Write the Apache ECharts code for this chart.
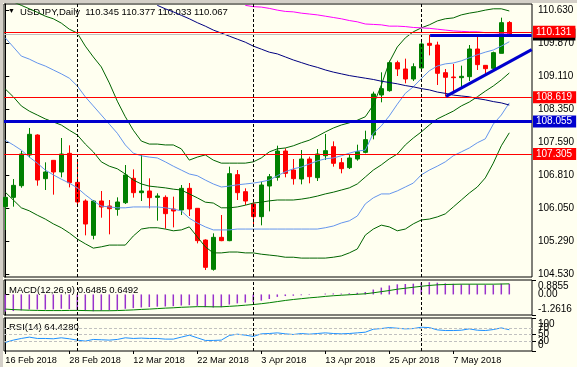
<!DOCTYPE html>
<html><head><meta charset="utf-8">
<script src="https://cdn.jsdelivr.net/npm/echarts@6/dist/echarts.min.js"></script>
<style>html,body{margin:0;padding:0;background:#FFFFF0}#c{width:577px;height:367px}</style>
</head><body><div id="c"></div>
<script>
const dates = ['16 Feb 2018','19 Feb 2018','20 Feb 2018','21 Feb 2018','22 Feb 2018','23 Feb 2018','26 Feb 2018','27 Feb 2018','28 Feb 2018',
'1 Mar 2018','2 Mar 2018','5 Mar 2018','6 Mar 2018','7 Mar 2018','8 Mar 2018','9 Mar 2018','12 Mar 2018','13 Mar 2018','14 Mar 2018','15 Mar 2018','16 Mar 2018','19 Mar 2018','20 Mar 2018','21 Mar 2018','22 Mar 2018','23 Mar 2018','26 Mar 2018','27 Mar 2018','28 Mar 2018','29 Mar 2018','30 Mar 2018',
'2 Apr 2018','3 Apr 2018','4 Apr 2018','5 Apr 2018','6 Apr 2018','9 Apr 2018','10 Apr 2018','11 Apr 2018','12 Apr 2018','13 Apr 2018','16 Apr 2018','17 Apr 2018','18 Apr 2018','19 Apr 2018','20 Apr 2018','23 Apr 2018','24 Apr 2018','25 Apr 2018','26 Apr 2018','27 Apr 2018','30 Apr 2018',
'1 May 2018','2 May 2018','3 May 2018','4 May 2018','7 May 2018','8 May 2018','9 May 2018','10 May 2018','11 May 2018','14 May 2018','15 May 2018','16 May 2018'];

const opens  = [106.096,106.311,106.580,107.288,107.749,106.742,107.165,106.896,107.326,106.657,106.227,105.435,106.227,106.111,106.035,106.188,106.750,106.419,106.458,106.311,106.311,106.042,106.019,106.519,106.058,105.327,104.651,105.389,105.312,106.835,106.442,106.158,105.866,106.573,106.773,107.380,106.942,106.734,107.196,106.765,107.272,107.480,107.111,106.996,107.196,107.349,107.749,108.672,108.772,109.418,109.272,109.041,109.295,109.864,109.825,109.187,109.087,109.072,109.095,109.733,109.356,109.287,109.633,110.345];
const highs  = [106.330,106.734,107.380,107.911,107.765,107.119,107.173,107.680,107.511,107.188,106.265,106.250,106.458,106.250,106.311,107.057,106.957,107.288,106.750,106.404,106.357,106.327,106.596,106.642,106.065,105.343,105.481,105.904,107.019,106.942,106.519,106.250,106.673,106.850,107.503,107.442,107.196,107.403,107.250,107.426,107.772,107.603,107.219,107.311,107.526,107.849,108.749,109.195,109.464,109.464,109.510,109.403,109.941,110.056,109.902,109.272,109.387,109.349,109.825,110.018,109.364,109.672,110.456,110.377];
const lows   = [105.558,106.096,106.534,107.227,106.580,106.481,106.373,106.773,106.542,106.127,105.435,105.343,105.842,105.458,105.888,106.158,106.304,106.227,106.058,105.773,105.589,105.619,105.904,105.881,105.250,104.635,104.620,105.300,105.300,106.250,106.135,105.635,105.666,105.988,106.696,106.773,106.604,106.611,106.635,106.688,107.173,107.019,106.865,106.965,107.157,107.326,107.649,108.503,108.749,109.110,108.941,108.995,109.249,109.587,108.903,108.634,108.749,108.849,108.995,109.249,109.157,109.210,109.633,110.033];
const closes = [106.311,106.588,107.311,107.765,106.711,106.896,106.896,107.311,106.650,106.204,105.696,106.227,106.088,106.050,106.204,106.827,106.419,106.458,106.304,106.342,105.935,105.996,106.519,106.042,105.312,104.697,105.389,105.312,106.858,106.419,106.227,105.866,106.596,106.788,107.380,106.865,106.742,107.196,106.788,107.311,107.388,107.096,106.973,107.219,107.365,107.642,108.695,108.818,109.418,109.272,109.041,109.326,109.849,109.818,109.172,109.080,109.072,109.103,109.733,109.372,109.279,109.649,110.341,110.067];

const bbUpper = [111.16,110.82,110.74,110.66,110.58,110.49,110.43,110.33,110.19,110.10,109.80,109.55,109.32,108.95,108.53,108.17,107.86,107.61,107.54,107.54,107.52,107.52,107.43,107.17,107.24,107.29,107.17,107.10,107.10,107.10,107.10,107.13,107.22,107.36,107.43,107.45,107.50,107.57,107.63,107.72,107.82,107.91,107.98,108.03,108.09,108.17,108.44,108.90,109.43,109.78,109.99,110.13,110.22,110.29,110.38,110.43,110.45,110.52,110.56,110.59,110.63,110.66,110.66,110.61];
const bbPlus1 = [109.99,109.78,109.57,109.50,109.41,109.34,109.25,109.16,109.06,108.88,108.63,108.42,108.21,108.00,107.79,107.52,107.33,107.27,107.24,107.22,107.13,107.03,106.94,106.85,106.81,106.71,106.62,106.55,106.57,106.60,106.62,106.64,106.67,106.71,106.81,106.90,106.97,107.01,107.08,107.15,107.20,107.22,107.27,107.33,107.38,107.40,107.79,107.96,108.19,108.46,108.71,108.86,109.05,109.23,109.34,109.39,109.41,109.46,109.53,109.60,109.66,109.71,109.80,109.90];
const bbMiddle = [108.81,108.63,108.42,108.30,108.21,108.12,108.05,107.98,107.86,107.75,107.54,107.36,107.13,107.03,106.97,106.85,106.71,106.62,106.57,106.55,106.53,106.50,106.48,106.39,106.30,106.20,106.18,106.07,106.07,106.09,106.13,106.18,106.20,106.23,106.25,106.25,106.25,106.27,106.30,106.34,106.39,106.43,106.48,106.53,106.62,106.78,106.94,107.06,107.20,107.31,107.52,107.68,107.82,107.98,108.12,108.21,108.30,108.42,108.51,108.63,108.76,108.88,109.02,109.18];
const bbMinus1 = [107.63,107.52,107.40,107.24,107.10,106.94,106.83,106.73,106.64,106.53,106.37,106.23,106.11,106.09,106.07,106.07,106.09,106.09,106.09,106.09,106.07,106.04,106.00,105.83,105.72,105.63,105.56,105.56,105.56,105.58,105.58,105.58,105.58,105.58,105.58,105.58,105.58,105.58,105.58,105.58,105.61,105.65,105.72,105.77,105.88,106.16,106.30,106.39,106.39,106.46,106.55,106.64,106.83,106.94,107.03,107.13,107.27,107.36,107.45,107.57,107.66,108.00,108.21,108.49];
const bbLower = [106.43,106.25,106.07,106.00,105.90,105.81,105.70,105.61,105.49,105.35,105.24,105.14,105.17,105.21,105.21,105.21,105.42,105.58,105.61,105.61,105.58,105.54,105.56,105.63,105.40,105.17,105.03,105.03,105.05,105.05,105.03,105.03,105.00,104.98,104.96,104.93,104.93,104.91,104.91,104.91,104.91,104.93,104.96,105.03,105.12,105.44,105.58,105.67,105.63,105.54,105.58,105.70,105.79,105.81,105.86,105.93,106.09,106.25,106.41,106.55,106.76,107.10,107.50,107.80];
const maSlow = [null,null,null,null,null,null,null,null,null,null,null,null,null,null,null,null,null,null,null,null,null,null,null,null,null,null,null,null,null,null,110.74,110.71,110.70,110.67,110.63,110.60,110.59,110.56,110.54,110.52,110.49,110.46,110.43,110.39,110.36,110.31,110.30,110.29,110.26,110.26,110.25,110.23,110.22,110.21,110.19,110.17,110.15,110.14,110.13,110.13,110.11,110.11,110.10,110.10];
const maMid = [null,null,null,null,null,null,null,null,null,null,null,null,null,null,null,null,null,null,null,110.74,110.66,110.59,110.51,110.43,110.34,110.26,110.17,110.10,110.03,109.96,109.89,109.80,109.73,109.66,109.62,109.55,109.48,109.42,109.36,109.31,109.25,109.20,109.16,109.12,109.09,109.06,109.03,108.99,108.96,108.93,108.89,108.86,108.82,108.79,108.74,108.71,108.67,108.65,108.63,108.59,108.56,108.52,108.49,108.44];

const macdHist = [-1.05,-1.02,-0.98,-0.92,-0.92,-0.93,-0.92,-0.88,-0.90,-0.95,-1.02,-1.03,-1.00,-0.98,-0.95,-0.88,-0.84,-0.80,-0.77,-0.75,-0.74,-0.72,-0.68,-0.66,-0.70,-0.78,-0.80,-0.78,-0.62,-0.55,-0.50,-0.47,-0.38,-0.28,-0.15,-0.10,-0.08,-0.05,-0.03,0.00,0.05,0.06,0.05,0.07,0.10,0.15,0.30,0.42,0.55,0.62,0.64,0.66,0.72,0.75,0.72,0.68,0.65,0.62,0.63,0.62,0.60,0.60,0.66,0.6485];
const macdSignal = [-0.90,-0.93,-0.95,-0.97,-0.98,-0.99,-0.99,-0.99,-0.98,-0.98,-0.99,-1.00,-1.00,-1.00,-0.99,-0.97,-0.95,-0.92,-0.90,-0.87,-0.84,-0.82,-0.79,-0.77,-0.75,-0.75,-0.76,-0.76,-0.73,-0.70,-0.66,-0.62,-0.57,-0.51,-0.44,-0.37,-0.31,-0.26,-0.21,-0.17,-0.12,-0.08,-0.05,-0.02,0.01,0.04,0.10,0.17,0.24,0.32,0.38,0.44,0.50,0.55,0.59,0.61,0.62,0.63,0.63,0.63,0.63,0.63,0.64,0.6492];
const rsi = [26,33,38,42,38,38,37,40,37,33,30,35,34,33,35,40,38,39,38,38,36,36,42,48,40,32,32,33,47,51,48,44,52,53,55,52,50,53,51,53,55,53,52,53,55,57,66,68,71,69,67,68,72,71,64,62,62,63,67,63,62,65,70,64.428];

const priceTicks = [110.630,109.870,109.110,108.350,107.590,106.810,106.050,105.290,104.530];
const macdMax = 0.8855, macdMin = -1.2616;
const macdMaxLabel = '0.8855', macdZeroLabel = '0.00', macdMinLabel = '-1.2616';
const rsiTicks = [70,50,30];
const rsiMax = 100, rsiMin = 0;
const rsiLevels = [70,50,30];
const dateTicks = ['16 Feb 2018','28 Feb 2018','12 Mar 2018','22 Mar 2018','3 Apr 2018','13 Apr 2018','25 Apr 2018','7 May 2018'];
const monthStarts = ['1 Mar 2018','2 Apr 2018','1 May 2018'];

const hLines = [
  {price:110.067, color:'#C0C0C0', width:1, box:'#000000'},
  {price:110.131, color:'#FF0000', width:1, box:'#FF0000'},
  {price:108.619, color:'#FF0000', width:1, box:'#FF0000'},
  {price:108.055, color:'#0000CD', width:3, box:'#0000CD'},
  {price:107.305, color:'#FF0000', width:1, box:'#FF0000'}
];
const trendResistance = [[53.1,110.04],[65.8,110.04]];
const trendSupport = [[55.09,108.64],[65.8,109.72]];
const header = 'USDJPY,Daily  110.345 110.377 110.033 110.067';
const macdTitle = 'MACD(12,26,9) 0.6485 0.6492';
const rsiTitle = 'RSI(14) 64.4280';

const FONT = 'Liberation Sans';
const FS = 9.2;
const xMin = -0.1625, xMax = 65.8375;
const idx = d => dates.indexOf(d);
const pts = arr => arr.map((v,i)=>v==null?null:[i,v]).filter(p=>p);
const dateTickIdx = dateTicks.map(idx);
const sepData = monthStarts.map(d=>({xAxis: idx(d)}));
const sepStyle = {type:[3,2], color:'#000', width:1};
const trendStyle = {color:'#0000CD', width:3, type:'solid'};

const chart = echarts.init(document.getElementById('c'), null, {renderer:'canvas', width:577, height:367});

function lineSeries(arr, color, xi, yi, z){
  return {type:'line', xAxisIndex:xi, yAxisIndex:yi, data:pts(arr), symbol:'none', clip:true, z:z||3,
    lineStyle:{color:color, width:1}, silent:true, animation:false};
}

const hLineData = hLines.map(h=>({yAxis:h.price, lineStyle:{color:h.color, width:h.width, type:'solid'},
  label:{show:true, position:'end', distance:1, formatter:h.price.toFixed(3), color:'#fff', backgroundColor:h.box,
    padding:[1,4,0,3], fontSize:FS+0.8, fontFamily:FONT, lineHeight:11}}));

const trendData = [trendResistance, trendSupport].map(t=>[
  {coord:t[0], lineStyle:trendStyle, label:{show:false}},
  {coord:t[1], lineStyle:trendStyle, label:{show:false}}
]);

function sideAxis(grid, min, max, values, fmt, vAlign, showLine){
  return {gridIndex:grid, type:'value', position:'right', min:min, max:max, splitLine:{show:false},
    axisLine:{show:!!showLine, lineStyle:{color:'#000'}},
    axisTick:{show:true, customValues:values, length:4, lineStyle:{color:'#000'}},
    axisLabel:{show:true, customValues:values, formatter:fmt, margin:6, color:'#000', fontSize:FS+0.8, fontFamily:FONT,
      hideOverlap:false, verticalAlign:vAlign||'middle', lineHeight:12}};
}

const option = {
  backgroundColor:'#FFFFF0',
  animation:false,
  textStyle:{fontFamily:FONT},
  grid:[
    {left:4, top:4, width:528, height:273, show:true, borderColor:'#000', borderWidth:1, backgroundColor:'transparent', outerBoundsMode:'none'},
    {left:4, top:280, width:528, height:35, show:true, borderColor:'#000', borderWidth:1, backgroundColor:'transparent', outerBoundsMode:'none'},
    {left:4, top:318, width:528, height:33, show:true, borderColor:'#000', borderWidth:1, backgroundColor:'transparent', outerBoundsMode:'none'}
  ],
  xAxis:[
    {gridIndex:0, type:'value', min:xMin, max:xMax, show:false},
    {gridIndex:1, type:'value', min:xMin, max:xMax, show:false},
    {gridIndex:2, type:'value', min:xMin, max:xMax, position:'bottom',
      axisLine:{show:false}, splitLine:{show:false},
      axisTick:{show:true, customValues:dateTickIdx, length:3, lineStyle:{color:'#000'}},
      axisLabel:{show:true, customValues:dateTickIdx, formatter:v=>dates[Math.round(v)], align:'left', margin:5, color:'#000', fontSize:FS, fontFamily:FONT, hideOverlap:false}}
  ],
  yAxis:[
    sideAxis(0, 104.474, 110.771, priceTicks, v=>v.toFixed(3), 'middle', true),
    sideAxis(1, macdMin, macdMax, [0], ()=>macdZeroLabel, 'middle', true),
    sideAxis(2, rsiMin, rsiMax, [rsiTicks[0]], v=>String(v), 'middle', true),
    sideAxis(1, macdMin, macdMax, [macdMax], ()=>macdMaxLabel, 'top', false),
    sideAxis(1, macdMin, macdMax, [macdMin], ()=>macdMinLabel, 'bottom', false),
    sideAxis(2, rsiMin, rsiMax, [rsiMax], v=>String(v), 'top', false),
    sideAxis(2, rsiMin, rsiMax, [rsiMin], v=>String(v), 'bottom', false),
    sideAxis(2, rsiMin, rsiMax, [rsiTicks[1]], v=>String(v), 'middle', false),
    sideAxis(2, rsiMin, rsiMax, [rsiTicks[2]], v=>String(v), 'middle', false)
  ],
  series:[
    {type:'candlestick', xAxisIndex:0, yAxisIndex:0, z:2, barWidth:5, clip:true, silent:true,
      data:dates.map((d,i)=>[i, opens[i], closes[i], lows[i], highs[i]]),
      itemStyle:{color:'#008000', color0:'#FF0000', borderColor:'#008000', borderColor0:'#FF0000', borderWidth:1},
      markLine:{silent:true, symbol:['none','none'], z:5, animation:false,
        data:[
          ...sepData.map(s=>Object.assign({lineStyle:sepStyle, label:{show:false}}, s)),
          ...hLineData,
          ...trendData
        ]}},
    lineSeries(bbUpper,'#006400',0,0),
    lineSeries(bbPlus1,'#6495ED',0,0),
    lineSeries(bbMiddle,'#006400',0,0),
    lineSeries(bbMinus1,'#6495ED',0,0),
    lineSeries(bbLower,'#006400',0,0),
    lineSeries(maSlow,'#FF00FF',0,0),
    lineSeries(maMid,'#000080',0,0),
    {type:'bar', xAxisIndex:1, yAxisIndex:1, data:pts(macdHist), barWidth:1.5, itemStyle:{color:'#9932CC'}, silent:true,
      markLine:{silent:true, symbol:['none','none'], data:sepData.map(s=>Object.assign({lineStyle:sepStyle, label:{show:false}}, s))}},
    lineSeries(macdSignal,'#008000',1,1),
    Object.assign(lineSeries(rsi,'#1E90FF',2,2), {markLine:{silent:true, symbol:['none','none'],
      data:[...sepData.map(s=>Object.assign({lineStyle:sepStyle, label:{show:false}}, s)),
            ...rsiLevels.map(l=>({yAxis:l, lineStyle:{type:[3,2], color:'#C0C0C0', width:1}, label:{show:false}}))]}})
  ],
  graphic:[
    {type:'rect', shape:{x:0,y:0,width:577,height:3}, style:{fill:'#D4D0C8'}, silent:true},
    {type:'rect', shape:{x:0,y:0,width:3,height:367}, style:{fill:'#D4D0C8'}, silent:true},
    {type:'text', left:8, top:8, style:{text:'▼', fontSize:7, fill:'#000'}},
    {type:'text', left:20, top:7, style:{text:header, fontSize:FS+0.3, fontFamily:FONT, fill:'#000'}},
    {type:'text', left:9, top:285, style:{text:macdTitle, fontSize:FS+0.3, fontFamily:FONT, fill:'#000'}},
    {type:'text', left:9, top:322, style:{text:rsiTitle, fontSize:FS+0.3, fontFamily:FONT, fill:'#000'}}
  ]
};
chart.setOption(option);
</script></body></html>
